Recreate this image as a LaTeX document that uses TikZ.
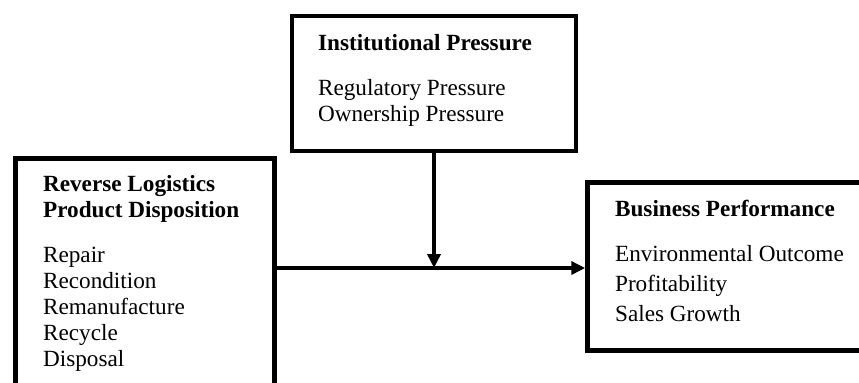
\documentclass[tikz,border=0pt]{standalone}
\usepackage{fontspec}
\setmainfont{Liberation Serif}
\usetikzlibrary{positioning,arrows.meta}
\begin{document}
\begin{tikzpicture}[box/.style={draw, line width=0.09cm, inner sep=0pt},
    txt/.style={align=left, inner sep=0pt, font=\fontsize{13.2}{14.8}\selectfont}]
    \useasboundingbox (0,0) rectangle (17.18,-7.64);
    \clip (0,0) rectangle (17.18,-7.64);
    \node [box, minimum width=5.68cm, minimum height=2.70cm] (ip) at (8.68,-1.67) {};
    \node [box, minimum width=5.18cm, minimum height=5.03cm] (rl) at (2.90,-5.685) {};
    \node [box, minimum width=5.85cm, minimum height=3.36cm] (bp) at (14.675,-5.33) {};
    \node [txt, below right=0.40cm and 0.56cm of ip.north west] (ipText)
      {\textbf{Institutional Pressure}\\[10.7pt] Regulatory Pressure\\ Ownership Pressure};
    \node [txt, below right=0.38cm and 0.59cm of rl.north west] (rlText)
      {\textbf{Reverse Logistics}\\ \textbf{Product Disposition}\\[10.7pt] Repair\\ Recondition\\ Remanufacture\\ Recycle\\ Disposal};
    \node [txt, below right=0.40cm and 0.59cm of bp.north west] (bpText)
      {\textbf{Business Performance}\\[10.7pt] Environmental Outcome\\[2.2pt] Profitability\\[2.2pt] Sales Growth};
    \coordinate (junction) at (8.68,-5.36);
    \draw [->,>={Triangle[length=0.28cm,width=0.26cm]},line width=0.07cm] (rl.east |- junction) -- (bp.west |- junction);
    \draw [->,>={Triangle[length=0.28cm,width=0.26cm]},line width=0.07cm] (ip.south) -- (junction);
\end{tikzpicture}
\end{document}
